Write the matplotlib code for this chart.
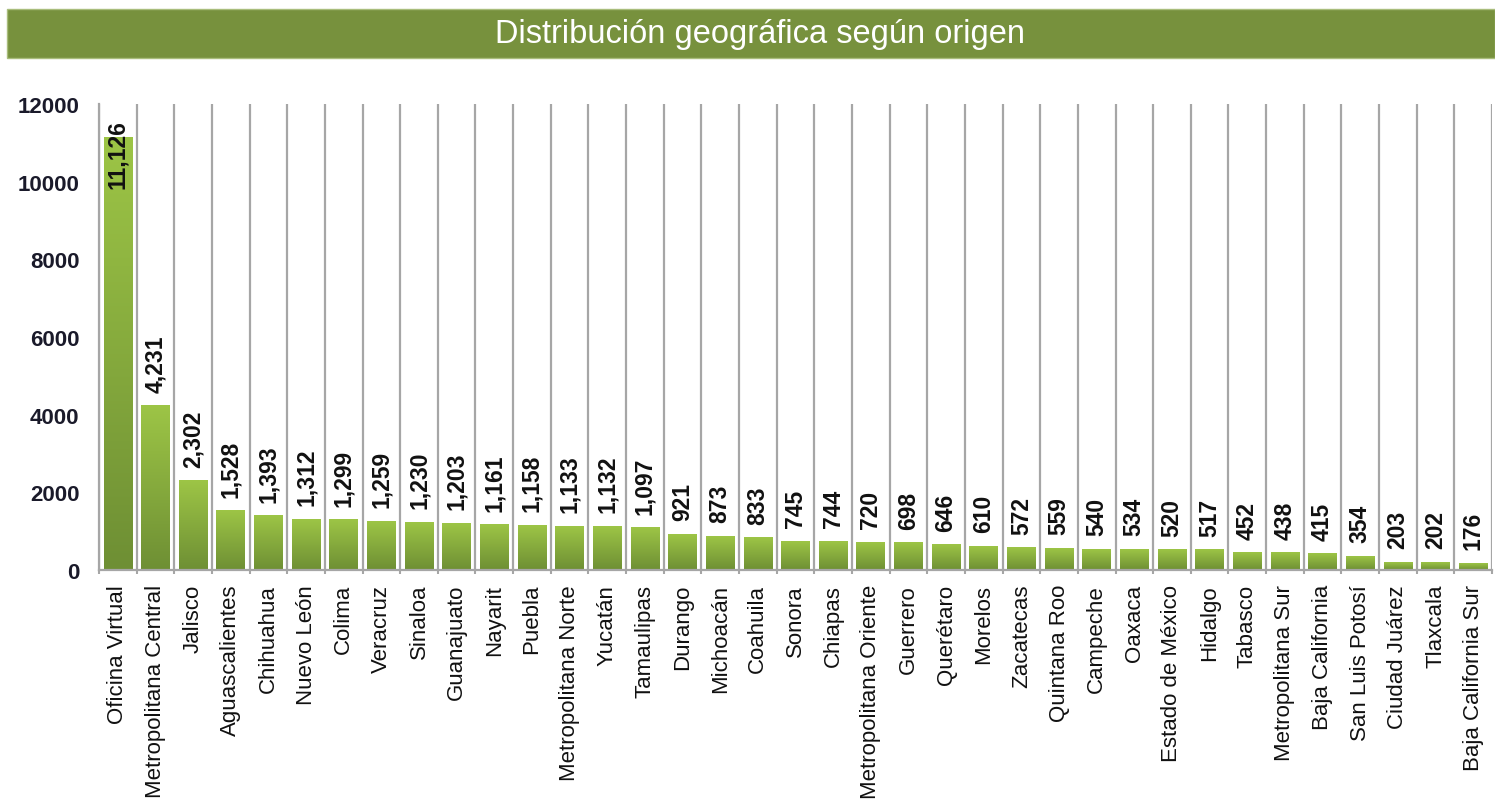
import matplotlib
matplotlib.use("Agg")
import matplotlib.pyplot as plt
import numpy as np
from matplotlib.colors import LinearSegmentedColormap
from matplotlib.patches import Rectangle

categories = ["Oficina Virtual", "Metropolitana Central", "Jalisco", "Aguascalientes",
              "Chihuahua", "Nuevo León", "Colima", "Veracruz", "Sinaloa", "Guanajuato",
              "Nayarit", "Puebla", "Metropolitana Norte", "Yucatán", "Tamaulipas",
              "Durango", "Michoacán", "Coahuila", "Sonora", "Chiapas",
              "Metropolitana Oriente", "Guerrero", "Querétaro", "Morelos", "Zacatecas",
              "Quintana Roo", "Campeche", "Oaxaca", "Estado de México", "Hidalgo",
              "Tabasco", "Metropolitana Sur", "Baja California", "San Luis Potosí",
              "Ciudad Juárez", "Tlaxcala", "Baja California Sur"]
values = [11126, 4231, 2302, 1528, 1393, 1312, 1299, 1259, 1230, 1203,
          1161, 1158, 1133, 1132, 1097, 921, 873, 833, 745, 744,
          720, 698, 646, 610, 572, 559, 540, 534, 520, 517,
          452, 438, 415, 354, 203, 202, 176]
yticks = [0, 2000, 4000, 6000, 8000, 10000, 12000]
title = "Distribución geográfica según origen"

plt.rcParams['font.family'] = ['Liberation Sans', 'DejaVu Sans']

W, H = 1495, 804
fig = plt.figure(figsize=(W / 100, H / 100), dpi=100)

# Title bar
fig.patches.append(Rectangle((7 / W, 1 - 59 / H), (W - 7) / W, 49 / H,
                             transform=fig.transFigure, facecolor='#77913d',
                             edgecolor='#a9bd7c', linewidth=1.0, zorder=0))
fig.text(760 / W, 1 - 35 / H, title, color='white', fontsize=23.5,
         ha='center', va='center')

ax = fig.add_axes([99 / W, 1 - 571 / H, (1492 - 99) / W, (571 - 105) / H])

n = len(categories)
x = np.arange(n)
bars = ax.bar(x, values, width=0.76, color='none', linewidth=0, zorder=3)

cmap = LinearSegmentedColormap.from_list('g', ['#6e8f34', '#9dc546'])
grad = np.linspace(0, 1, 256).reshape(-1, 1)
for b in bars:
    x0, y0 = b.get_x(), b.get_y()
    w, h = b.get_width(), b.get_height()
    ax.imshow(grad, extent=[x0, x0 + w, y0, y0 + h], origin='lower',
              aspect='auto', cmap=cmap, zorder=2, interpolation='bicubic')

ymax = yticks[-1]
ax.set_xlim(-0.5, n - 0.5)
ax.set_ylim(0, ymax)

for xi, v in zip(x, values):
    lab = f"{v:,}"
    if v > ymax * 0.85:
        ax.annotate(lab, (xi, ymax), xytext=(0, -11), textcoords='offset points',
                    rotation=90, ha='center', va='top', fontsize=16.5,
                    fontweight='bold', color='#111111', zorder=5)
    else:
        ax.annotate(lab, (xi, v), xytext=(0, 10), textcoords='offset points',
                    rotation=90, ha='center', va='bottom', fontsize=16.5,
                    fontweight='bold', color='#111111', zorder=5)

ax.set_yticks(yticks)
ax.set_yticklabels([str(t) for t in yticks], fontsize=16, fontweight='bold',
                   color='#1a1a2a')
ax.tick_params(axis='y', length=0, pad=14)

ax.set_xticks(x)
ax.set_xticklabels(categories, rotation=90, fontsize=16, color='#111111')
ax.tick_params(axis='x', which='major', length=0, pad=10)
ax.set_xticks(np.arange(n + 1) - 0.5, minor=True)
ax.tick_params(axis='x', which='minor', length=3, width=1.5, color='#a6a6a6')
ax.grid(True, axis='x', which='minor', color='#a6a6a6', linewidth=1.6, zorder=1)
ax.grid(False, axis='x', which='major')
ax.grid(False, axis='y')

for s in ['top', 'right']:
    ax.spines[s].set_visible(False)
for s in ['left', 'bottom']:
    ax.spines[s].set_color('#a6a6a6')
    ax.spines[s].set_linewidth(1.6)

fig.savefig('out.png', dpi=100)
